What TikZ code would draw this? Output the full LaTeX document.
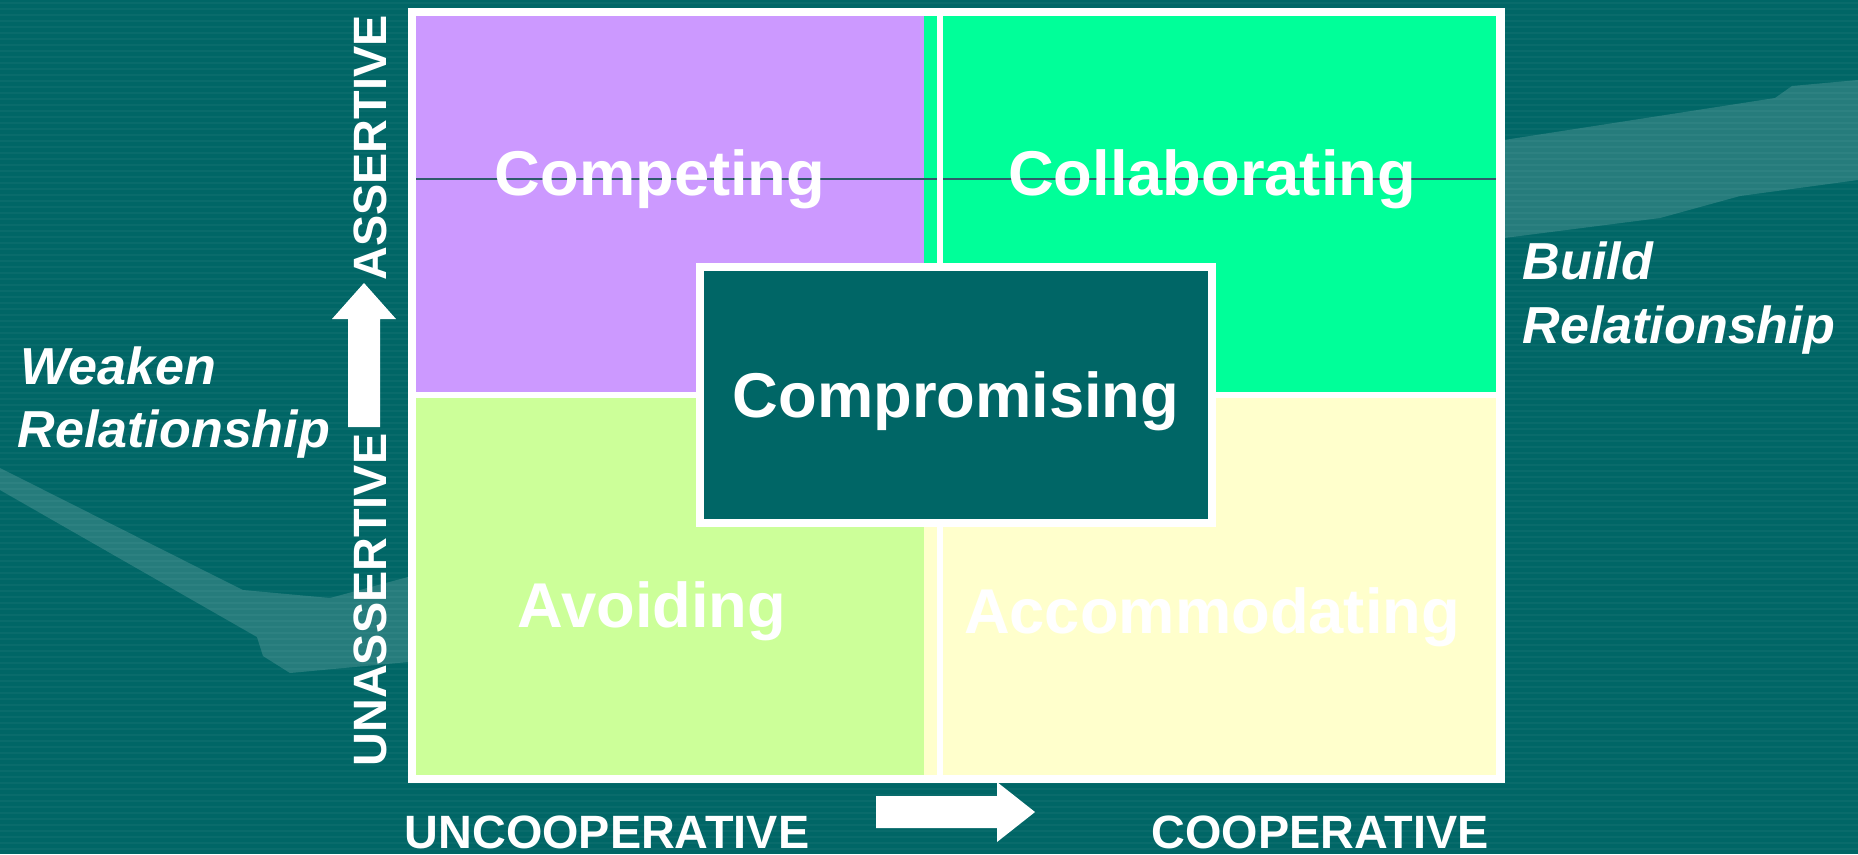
\documentclass[tikz,border=0pt]{standalone}
\usepackage{fontspec}
\setmainfont{Liberation Sans}
\usetikzlibrary{positioning}
\definecolor{slideteal}{HTML}{006666}
\definecolor{competecol}{HTML}{CC99FF}
\definecolor{collabcol}{HTML}{00FF99}
\definecolor{avoidcol}{HTML}{CCFF99}
\definecolor{accomcol}{HTML}{FFFFCC}
\definecolor{guidecol}{HTML}{2F5A6A}
\tikzset{
  quad/.style={inner sep=0pt, outer sep=0pt, anchor=north west},
  mode/.style={text=white, inner sep=0pt, anchor=base,
    font=\fontsize{18}{22}\selectfont\bfseries},
  axis/.style={text=white, inner sep=0pt,
    font=\fontsize{13.3}{16}\selectfont\bfseries},
  side/.style={text=white, inner sep=0pt, anchor=base west,
    font=\fontsize{14.8}{18}\selectfont\bfseries\itshape},
}
\begin{document}
\begin{tikzpicture}[x=0.01cm, y=-0.01cm]
      \useasboundingbox (0,0) rectangle (1858,854);
      \fill[slideteal] (0,0) rectangle (1858,854);
      % faint stripes and swooshes of the slide
      \foreach \y in {3,9,...,854}
        \draw[white, opacity=0.035, line width=0.02cm] (0,\y) -- (1858,\y);
      \fill[white, opacity=0.15] (0,468) -- (187,562) -- (243,590) -- (330,598)
        -- (408,577) -- (408,662) -- (290,673) -- (263,656) -- (257,637)
        -- (0,490) -- cycle;
      \fill[white, opacity=0.15] (1504,140) -- (1775,98) -- (1792,86) -- (1858,80)
        -- (1858,180) -- (1740,196) -- (1660,218) -- (1504,238) -- cycle;
      % frame and quadrants
      \node[quad, fill=white, minimum width=10.96cm, minimum height=7.75cm]
        (frame) at (408,8) {};
      \node[quad, fill=competecol, minimum width=5.08cm, minimum height=3.76cm]
        (competing) at (416,16) {};
      \node[quad, fill=collabcol, minimum width=5.72cm, minimum height=3.76cm]
        (collaborating) at (924,16) {};
      \node[quad, fill=avoidcol, minimum width=5.08cm, minimum height=3.77cm]
        (avoiding) at (416,398) {};
      \node[quad, fill=accomcol, minimum width=5.72cm, minimum height=3.77cm]
        (accommodating) at (924,398) {};
      \draw[guidecol, line width=0.012cm] (competing.west |- 0,179) -- (collaborating.east |- 0,179);
      \fill[white] (937,16) rectangle (943,775);
      % mode labels
      \node[mode] (competinglbl) at (660,195) {Competing};
      \node[mode] (collaboratinglbl) at (1212,195) {Collaborating};
      \node[mode] (avoidinglbl) at (652,627) {Avoiding};
      \node[mode] (accommodatinglbl) at (1212,633) {Accommodating};
      \node[mode, anchor=center, text depth=0pt, draw=white, line width=0.08cm,
        fill=slideteal, minimum width=5.12cm, minimum height=2.56cm]
        (compromising) at (956,395) {Compromising};
      % axes
      \fill[white] (364,283) -- (396,319) -- (380,319) -- (380,427) -- (348,427)
        -- (348,319) -- (332,319) -- cycle;
      \fill[white] (876,796) -- (997,796) -- (997,782) -- (1035,812) -- (997,842)
        -- (997,828) -- (876,828) -- cycle;
      \node[axis, rotate=90] (assertive) at (370,148) {ASSERTIVE};
      \node[axis, rotate=90] (unassertive) at (370,600) {UNASSERTIVE};
      \node[axis, anchor=base] (uncooperative) at (607,848) {UNCOOPERATIVE};
      \node[axis, anchor=base] (cooperative) at (1320,848) {COOPERATIVE};
      % relationship notes
      \node[side] (weaken) at (20,384) {Weaken};
      \node[side] (weakenrel) at (17,447) {Relationship};
      \node[side] (build) at (1522,279) {Build};
      \node[side] (buildrel) at (1522,343) {Relationship};
\end{tikzpicture}
\end{document}
